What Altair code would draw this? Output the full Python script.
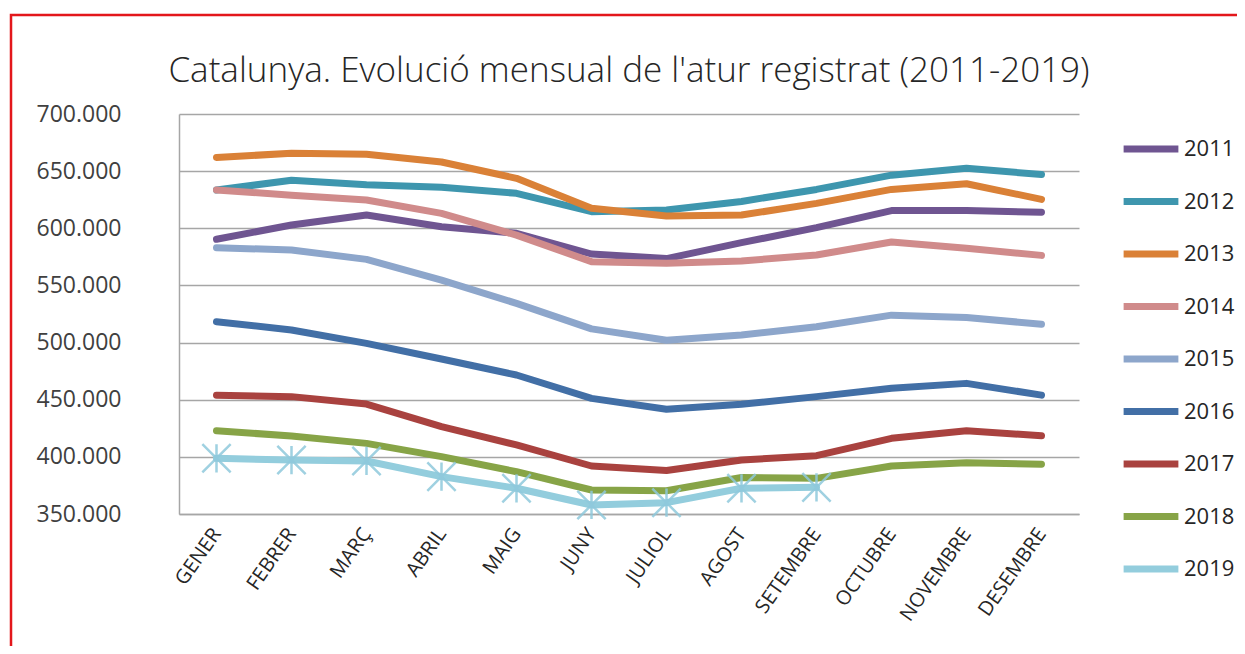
import altair as alt
import pandas as pd

months = ["GENER", "FEBRER", "MARÇ", "ABRIL", "MAIG", "JUNY", "JULIOL",
          "AGOST", "SETEMBRE", "OCTUBRE", "NOVEMBRE", "DESEMBRE"]

y2011 = [590400, 602900, 611600, 601400, 595600, 577500, 573500, 587400, 600600, 615500, 615500, 614000]
y2012 = [633500, 642000, 638000, 636000, 630600, 614500, 616000, 623500, 634000, 646500, 652500, 647000]
y2013 = [662000, 665600, 664700, 658000, 643700, 617500, 610700, 611600, 621800, 634000, 639000, 625300]
y2014 = [633500, 629000, 624700, 613000, 594000, 570800, 569300, 571400, 576600, 588000, 582500, 576300]
y2015 = [583000, 581000, 572800, 554700, 534300, 512000, 502000, 506600, 513900, 524000, 522000, 516000]
y2016 = [518300, 511000, 499300, 485600, 471600, 451200, 441600, 446000, 452700, 460000, 464300, 454000]
y2017 = [454000, 452700, 446200, 426400, 410400, 392000, 388000, 397300, 401000, 416200, 422900, 418500]
y2018 = [422900, 418200, 411800, 400200, 387000, 371000, 370400, 382000, 381200, 392000, 394900, 393500]
y2019 = [398700, 397200, 396400, 382700, 372500, 357900, 359900, 372500, 373300]

years = ["2011", "2012", "2013", "2014", "2015", "2016", "2017", "2018", "2019"]
series = [y2011, y2012, y2013, y2014, y2015, y2016, y2017, y2018, y2019]
colors = ["#6F5591", "#3E96AE", "#DA8137", "#D08B8B", "#8DA6CB",
          "#426FA6", "#A9423F", "#87A447", "#93CDDD"]

rows = []
for yr, vals in zip(years, series):
    for m, v in zip(months, vals):
        rows.append({"mes": m, "any": yr, "atur": v})
df = pd.DataFrame(rows)

xenc = alt.X("mes:N", sort=months, title=None,
             scale=alt.Scale(type="point", padding=0.5),
             axis=alt.Axis(labelAngle=-55, labelFontSize=20, labelColor="#262626",
                           labelFont="Open Sans", ticks=False, grid=False,
                           domainColor="#a6a6a6", domainWidth=1.5, labelPadding=16))
yenc = alt.Y("atur:Q", title=None,
             scale=alt.Scale(domain=[350000, 700000], nice=False, zero=False),
             axis=alt.Axis(values=[350000, 400000, 450000, 500000, 550000, 600000, 650000, 700000],
                           labelExpr="replace(format(datum.value, ','), ',', '.')",
                           labelFontSize=23, labelColor="#404040", labelFont="Open Sans",
                           labelPadding=58, ticks=False, grid=True,
                           gridColor="#a6a6a6", gridWidth=1.5,
                           domainColor="#a6a6a6", domainWidth=1.5))

lines = alt.Chart(df).mark_line(strokeWidth=7, strokeCap="round", strokeJoin="round").encode(
    x=xenc, y=yenc,
    color=alt.Color("any:N", scale=alt.Scale(domain=years, range=colors),
                    legend=alt.Legend(title=None, orient="none", legendX=941, legendY=4,
                                      symbolType="stroke", symbolSize=3000,
                                      symbolStrokeWidth=7, labelFontSize=22,
                                      labelFont="Open Sans", labelColor="#262626",
                                      labelOffset=2, rowPadding=7.5, padding=0)),
)

star = "M0,-1L0,1M-1,-1L1,1M-1,1L1,-1"
pts = alt.Chart(df[df["any"] == "2019"]).mark_point(
    shape=star, size=800, filled=False, strokeWidth=2.5, color="#8FC9DC", opacity=0.85
).encode(x=alt.X("mes:N", sort=months), y="atur:Q")

border = alt.Chart(pd.DataFrame({"k": [0]})).mark_rect(
    fillOpacity=0, stroke="#E3171B", strokeWidth=2.5
).encode(x=alt.value(-168), y=alt.value(-99), x2=alt.value(1200), y2=alt.value(700))

chart = alt.layer(border, lines, pts).properties(
    width=900, height=400,
    title=alt.TitleParams("Catalunya. Evolució mensual de l'atur registrat (2011-2019)",
                          font="Open Sans", fontSize=35, fontWeight=300, color="#262626",
                          anchor="middle", offset=-75),
    autosize=alt.AutoSizeParams(type="none"),
    padding={"left": 171, "top": 106, "right": 158, "bottom": 132},
).configure_view(stroke=None)

chart.save("out.html", embed_options={"renderer": "svg", "actions": False})
